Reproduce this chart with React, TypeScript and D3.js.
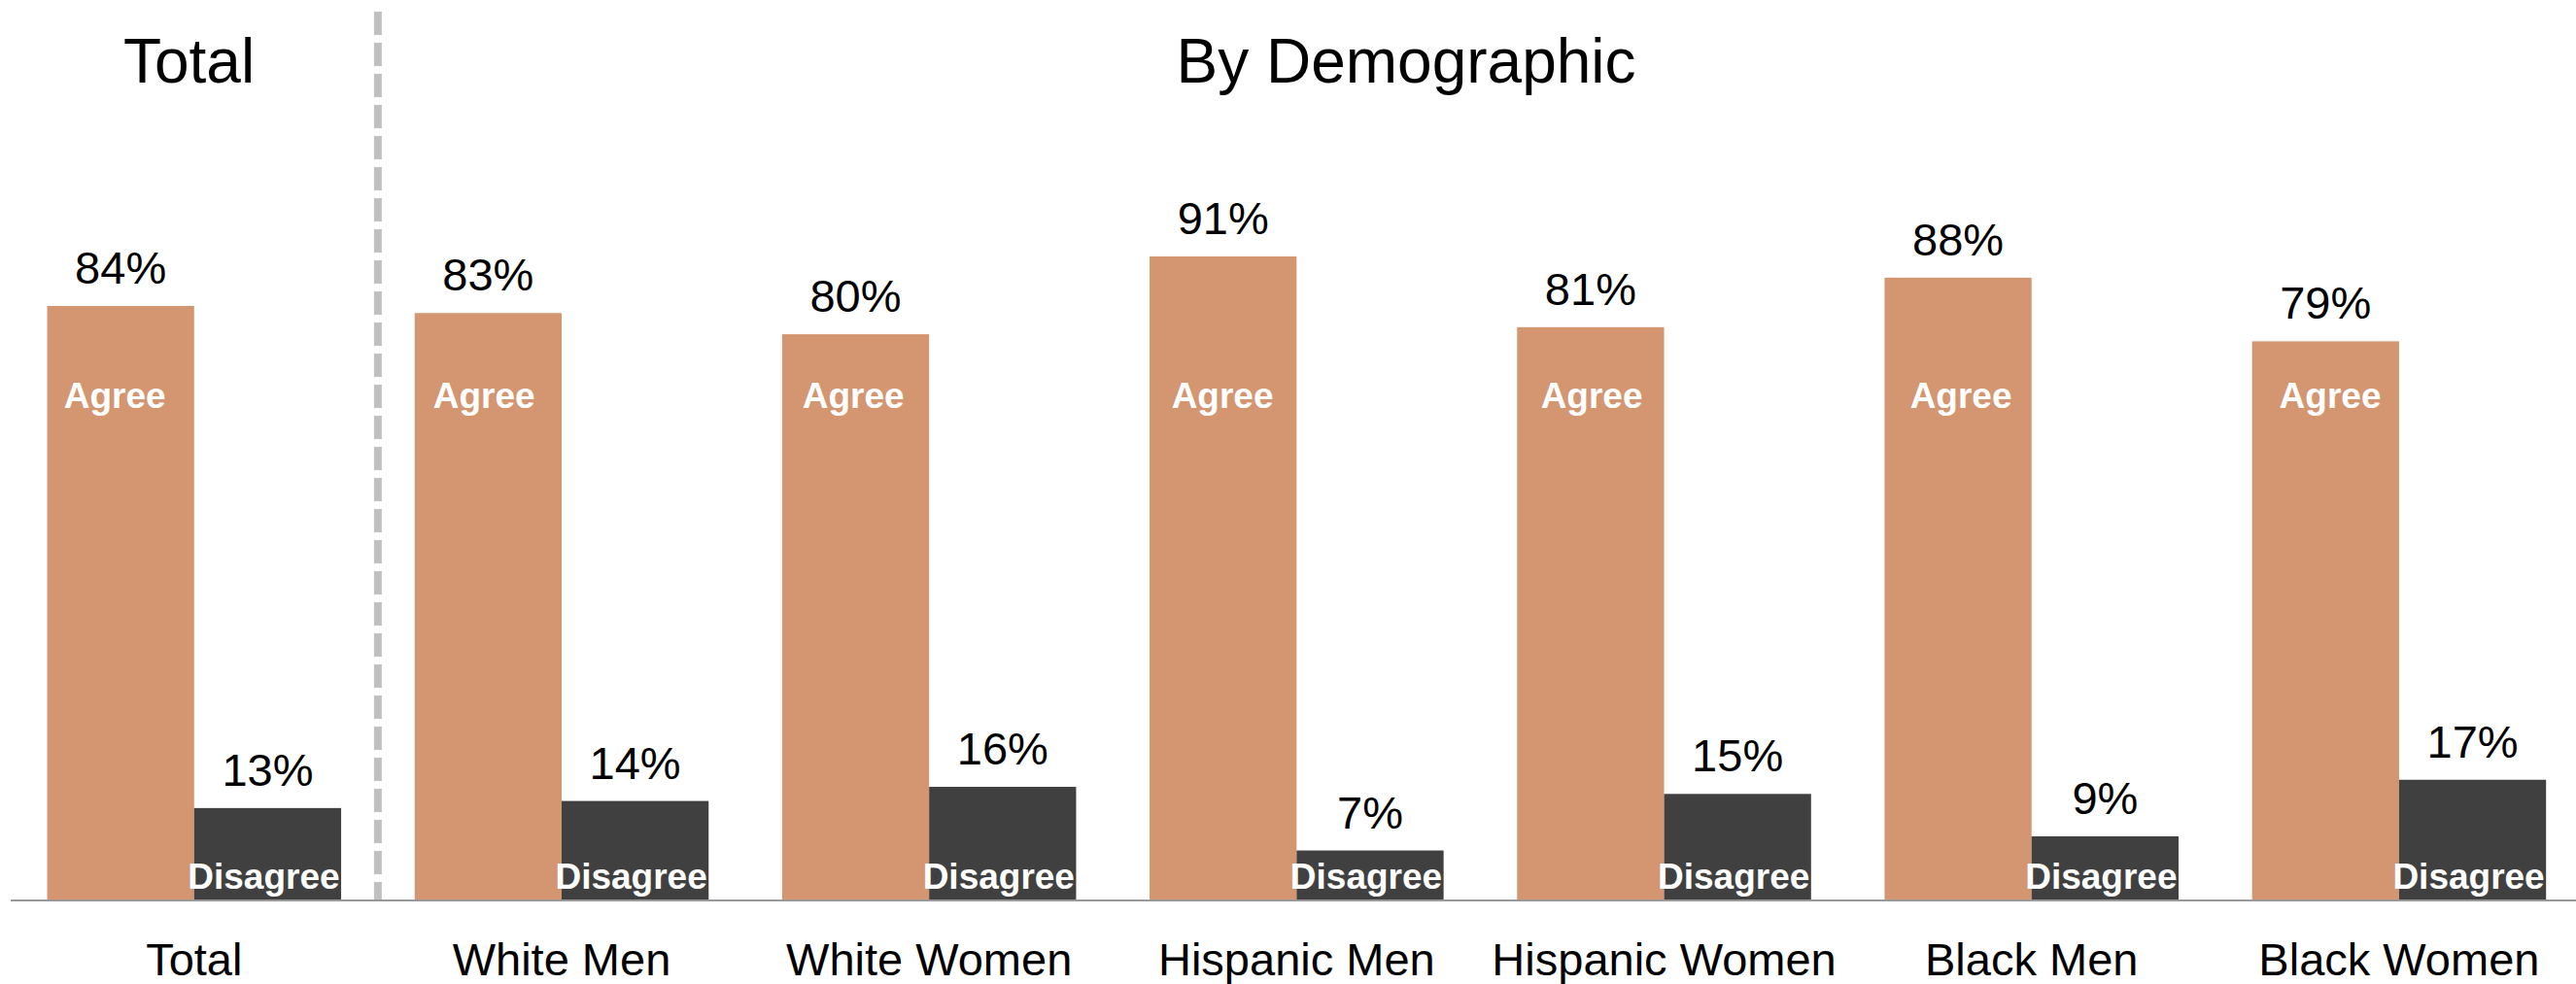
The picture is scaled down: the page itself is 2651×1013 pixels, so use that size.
import React from "react";
import * as d3 from "d3";

const categories = ["Total", "White Men", "White Women", "Hispanic Men", "Hispanic Women", "Black Men", "Black Women"];
const series = ["Agree", "Disagree"];
const agreeValues = [84, 83, 80, 91, 81, 88, 79];
const disagreeValues = [13, 14, 16, 7, 15, 9, 17];
const sectionTitles = ["Total", "By Demographic"];

const W = 2651;
const H = 1013;
const FONT = "'Liberation Sans', Arial, Helvetica, sans-serif";
const colors: Record<string, string> = { Agree: "#D49571", Disagree: "#404040" };

export default function App() {
  const baseY = 926.5;
  const x0 = d3.scaleBand<string>().domain(categories).range([10.7, 2658]).paddingInner(0.2).paddingOuter(0.1);
  const x1 = d3.scaleBand<string>().domain(series).range([0, x0.bandwidth()]).padding(0);
  const y = d3.scaleLinear().domain([0, 100]).range([baseY, baseY - 728]);
  const step = x0.step();
  const dividerX = (x0(categories[1]) as number) - (step - x0.bandwidth()) / 2;

  const rows = categories.map((c, i) => ({ cat: c, Agree: agreeValues[i], Disagree: disagreeValues[i] }));

  return (
    <svg width={W} height={H} style={{ position: "absolute", left: 0, top: 0, background: "#fff" }} fontFamily={FONT}>
      <rect x={0} y={0} width={W} height={H} fill="#fff" />
      <line x1={dividerX} x2={dividerX} y1={12} y2={baseY} stroke="#c0c0c0" strokeWidth={8} strokeDasharray="24 8" />
      <text x={194.5} y={85} fontSize={64} textAnchor="middle" fill="#000">{sectionTitles[0]}</text>
      <text x={1447} y={85} fontSize={64} textAnchor="middle" fill="#000">{sectionTitles[1]}</text>
      {rows.map((r, gi) => {
        const gx = x0(r.cat) as number;
        return (
          <g key={r.cat} transform={`translate(${gx},0)`}>
            {series.map((s) => {
              const v = (r as any)[s] as number;
              const bx = x1(s) as number;
              const bw = x1.bandwidth();
              return (
                <g key={s}>
                  <rect x={bx} y={y(v)} width={bw} height={baseY - y(v)} fill={colors[s]} />
                  <text x={bx + bw / 2} y={y(v) - 23} fontSize={47} textAnchor="middle" fill="#000">{v}%</text>
                  {s === "Agree" ? (
                    <text x={bx + bw / 2 - 6 + gi * 1.8} y={420} fontSize={37} fontWeight="bold" textAnchor="middle" fill="#fff">Agree</text>
                  ) : (
                    <text x={bx + bw / 2 - 4} y={915} fontSize={37} fontWeight="bold" textAnchor="middle" fill="#fff">Disagree</text>
                  )}
                </g>
              );
            })}
            <text x={x0.bandwidth() / 2} y={1004} fontSize={47} textAnchor="middle" fill="#000">{r.cat}</text>
          </g>
        );
      })}
      <line x1={11} x2={W} y1={baseY + 0.5} y2={baseY + 0.5} stroke="#999" strokeWidth={2} />
    </svg>
  );
}
